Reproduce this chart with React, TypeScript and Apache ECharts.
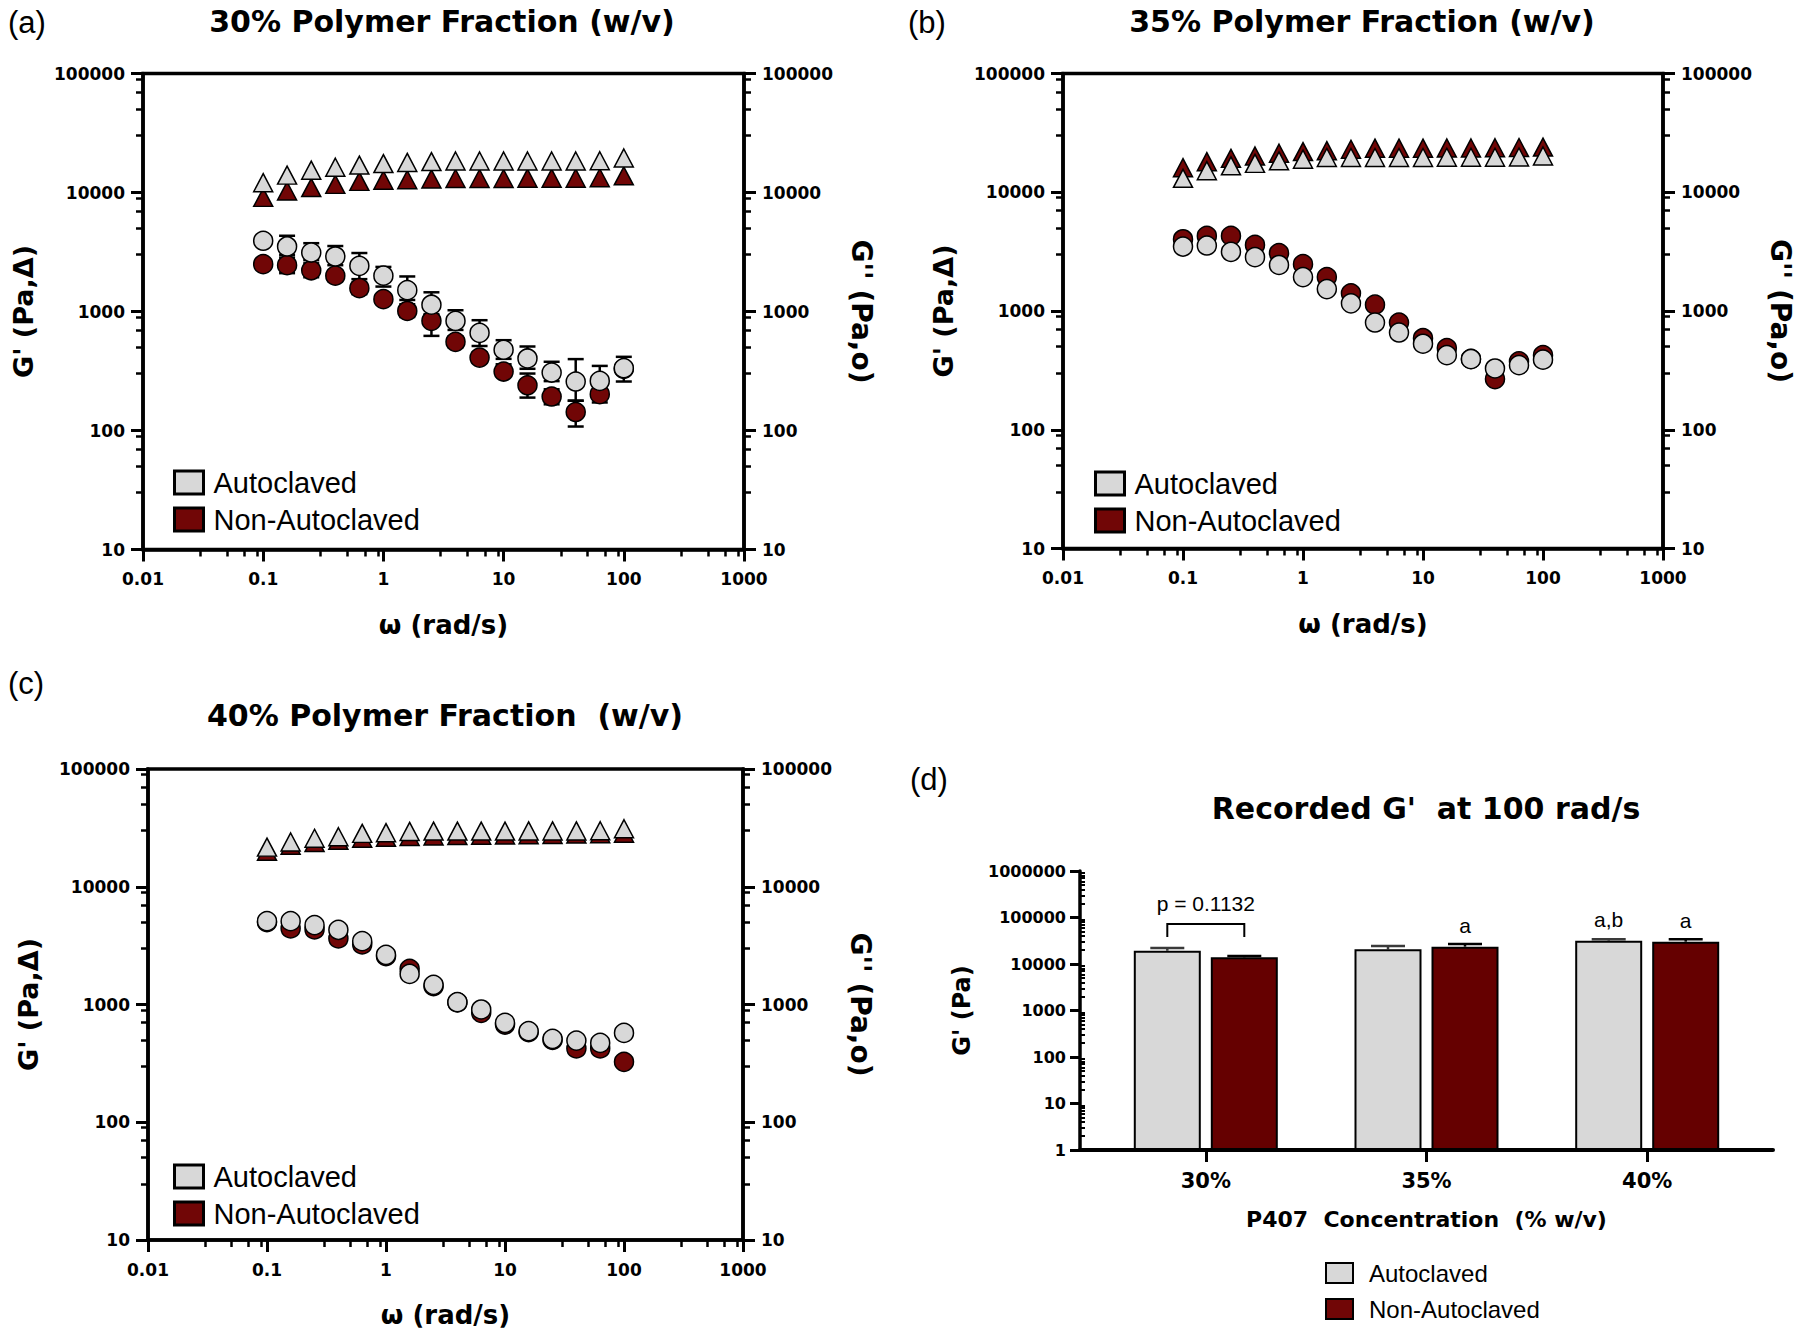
import React, { useEffect, useRef } from 'react';
import * as echarts from 'echarts';

// ---------- data ----------
const OMEGA = [0.1, 0.158, 0.251, 0.398, 0.631, 1, 1.58, 2.51, 3.98, 6.31, 10, 15.8, 25.1, 39.8, 63.1, 100];

// (a) 30 % polymer fraction
const P30_GP_AUTO = [12100, 14000, 15400, 16300, 17000, 17500, 17900, 18200, 18400, 18400, 18400, 18400, 18400, 18400, 18500, 19500];
const P30_GP_NON = [9100, 10300, 11000, 11700, 12400, 12700, 12800, 13000, 13100, 13100, 13100, 13200, 13200, 13200, 13300, 13800];
const P30_GPP_AUTO = [3930, 3520, 3130, 2900, 2420, 2000, 1510, 1140, 833, 662, 477, 403, 307, 258, 261, 334];
const P30_GPP_AUTO_LO = [3800, 3000, 2700, 2450, 1870, 1620, 1250, 930, 700, 513, 400, 330, 260, 178, 200, 258];
const P30_GPP_AUTO_HI = [4050, 4330, 3750, 3550, 3100, 2370, 1970, 1450, 1025, 845, 574, 508, 378, 398, 349, 416];
const P30_GPP_NON = [2500, 2450, 2220, 2000, 1570, 1270, 1010, 835, 556, 410, 313, 240, 193, 143, 202, 330];
const P30_GPP_NON_LO = [2400, 2100, 1940, 1800, 1400, 1200, 900, 624, 500, 370, 290, 189, 166, 108, 172, 300];
const P30_GPP_NON_HI = [2600, 2840, 2540, 2200, 1750, 1350, 1150, 950, 620, 452, 360, 301, 222, 178, 236, 360];

// (b) 35 %
const P35_GP_AUTO = [13100, 15200, 16700, 17500, 18400, 19000, 19600, 19600, 19600, 19600, 19600, 19700, 19700, 19700, 19800, 20200];
const P35_GP_NON = [16100, 18100, 19300, 20200, 21300, 22000, 22400, 23000, 23500, 23500, 23500, 23600, 23600, 23700, 23800, 24000];
const P35_GPP_AUTO = [3490, 3560, 3150, 2840, 2440, 1930, 1530, 1160, 800, 659, 530, 425, 393, 328, 350, 389];
const P35_GPP_NON = [4020, 4290, 4290, 3600, 3070, 2480, 1930, 1410, 1130, 800, 590, 487, 395, 267, 376, 425];

// (c) 40 %
const P40_GP_AUTO = [21700, 24000, 25800, 26600, 28400, 28800, 29500, 29700, 29700, 29700, 29700, 29800, 29800, 29800, 29900, 31100];
const P40_GP_NON = [20000, 22500, 23800, 24800, 25800, 26300, 26700, 27000, 27200, 27400, 27500, 27700, 27800, 28000, 28200, 28500];
const P40_GPP_AUTO = [5100, 5100, 4720, 4310, 3450, 2640, 1820, 1470, 1047, 907, 699, 594, 511, 494, 472, 574];
const P40_GPP_NON = [5000, 4430, 4340, 3640, 3240, 2570, 2010, 1430, 1040, 849, 676, 582, 500, 423, 423, 326];

// (d) recorded G' at 100 rad/s
const CONC = ['30%', '35%', '40%'];
const BAR_AUTO = [19300, 20700, 31800];
const BAR_AUTO_ERR = [22100, 24400, 34000];
const BAR_NON = [13900, 23600, 30200];
const BAR_NON_ERR = [14900, 26900, 34000];
const LETTERS_AUTO = ['', '', 'a,b'];
const LETTERS_NON = ['', 'a', 'a'];
const P_TEXT = 'p = 0.1132';
const BRACKET_TOP = 72500;
const BRACKET_LEG = 38000;
const P_TEXT_Y = 200000;

// tick labels / ticks
const X_RANGE = [0.01, 1000];
const Y_RANGE = [10, 100000];
const D_Y_RANGE = [1, 1000000];
const MINOR_MULT = [3, 5, 7, 9];
const D_MINOR_MULT = [2, 3, 4, 5, 6, 7, 8, 9];

const TITLES = ['30% Polymer Fraction (w/v)', '35% Polymer Fraction (w/v)', '40% Polymer Fraction  (w/v)', "Recorded G'  at 100 rad/s"];
const LETTERS = ['(a)', '(b)', '(c)', '(d)'];

// ---------- styles ----------
const BOLD = '"DejaVu Sans", Verdana, sans-serif';
const SANS = '"Liberation Sans", Arial, Helvetica, sans-serif';
const LIGHT = '#d8d8d8';
const DARK = '#710606';
const BAR_DARK = '#650000';
const BAR_W = 67;
const BAR_GAP = 10;

function minorTicks(lo: number, hi: number, mult: number[]) {
  const out: number[] = [];
  let d = lo;
  while (d < hi * 0.999) {
    for (const m of mult) out.push(Number((d * m).toPrecision(4)));
    d = Number((d * 10).toPrecision(4));
  }
  return out;
}
const fmtNum = (v: number) => String(Number(Number(v).toPrecision(6)));

const zip = (xs: number[], ys: number[]) => xs.map((x, i) => [x, ys[i]]);
const zip3 = (xs: number[], a: number[], b: number[]) => xs.map((x, i) => [x, a[i], b[i]]);

const errRender = (capHalf: number) => (params: any, api: any) => {
  const x = api.value(0);
  const lo = api.value(1);
  const hi = api.value(2);
  const a = api.coord([x, lo]);
  const b = api.coord([x, hi]);
  const st = { stroke: '#000', lineWidth: 2.5 };
  return {
    type: 'group',
    children: [
      { type: 'line', shape: { x1: a[0], y1: a[1], x2: b[0], y2: b[1] }, style: st },
      { type: 'line', shape: { x1: a[0] - capHalf, y1: a[1], x2: a[0] + capHalf, y2: a[1] }, style: st },
      { type: 'line', shape: { x1: b[0] - capHalf, y1: b[1], x2: b[0] + capHalf, y2: b[1] }, style: st },
    ],
  };
};

const barErrRender = (offset: number, color: string) => (params: any, api: any) => {
  const x = api.value(0);
  const v = api.value(1);
  const e = api.value(2);
  const base = api.coord([x, v]);
  const top = api.coord([x, e]);
  const cx = base[0] + offset;
  const st = { stroke: color, lineWidth: 2.5 };
  return {
    type: 'group',
    children: [
      { type: 'line', shape: { x1: cx, y1: base[1], x2: cx, y2: top[1] }, style: st },
      { type: 'line', shape: { x1: cx - 17, y1: top[1], x2: cx + 17, y2: top[1] }, style: st },
    ],
  };
};

const PANELS = [
  {
    grid: { left: 143, top: 73.5, width: 601, height: 476 },
    gpAuto: P30_GP_AUTO, gpNon: P30_GP_NON, gppAuto: P30_GPP_AUTO, gppNon: P30_GPP_NON,
    errAuto: zip3(OMEGA, P30_GPP_AUTO_LO, P30_GPP_AUTO_HI), errNon: zip3(OMEGA, P30_GPP_NON_LO, P30_GPP_NON_HI),
    legend: { left: 168, top: 463 },
  },
  {
    grid: { left: 1063, top: 73.5, width: 600, height: 475 },
    gpAuto: P35_GP_AUTO, gpNon: P35_GP_NON, gppAuto: P35_GPP_AUTO, gppNon: P35_GPP_NON,
    errAuto: null, errNon: null,
    legend: { left: 1089, top: 464 },
  },
  {
    grid: { left: 148, top: 769, width: 595, height: 471 },
    gpAuto: P40_GP_AUTO, gpNon: P40_GP_NON, gppAuto: P40_GPP_AUTO, gppNon: P40_GPP_NON,
    errAuto: null, errNon: null,
    legend: { left: 168, top: 1157 },
  },
];

function buildOption() {
  const grid: any[] = [];
  const xAxis: any[] = [];
  const yAxis: any[] = [];
  const series: any[] = [];
  const legend: any[] = [];

  const axisLine = { show: true, onZero: false, lineStyle: { color: '#000', width: 3.5 } };
  const majorTick = { show: true, length: 12, lineStyle: { color: '#000', width: 3 } };
  const lblStyle = { fontFamily: BOLD, fontWeight: 'bold', fontSize: 17, color: '#000' };
  const nameStyle = (size: number) => ({ fontFamily: BOLD, fontWeight: 'bold', fontSize: size, color: '#000' });
  const minorX = minorTicks(X_RANGE[0], X_RANGE[1], MINOR_MULT);
  const minorY = minorTicks(Y_RANGE[0], Y_RANGE[1], MINOR_MULT);

  const legendItems = (bw: number) => [
    { name: 'Autoclaved', icon: 'rect', itemStyle: { color: LIGHT, borderColor: '#000', borderWidth: bw } },
    { name: 'Non-Autoclaved', icon: 'rect', itemStyle: { color: DARK, borderColor: '#000', borderWidth: bw } },
  ];

  PANELS.forEach((p, g) => {
    grid.push({ ...p.grid, show: true, borderColor: '#000', borderWidth: 3.5, backgroundColor: 'transparent', outerBoundsMode: 'none', containLabel: false });
    xAxis.push({
      type: 'log', logBase: 10, gridIndex: g, min: X_RANGE[0], max: X_RANGE[1], position: 'bottom',
      name: 'ω (rad/s)', nameLocation: 'middle', nameGap: 62, nameTextStyle: nameStyle(26),
      axisLine, axisTick: majorTick,
      axisLabel: { ...lblStyle, margin: 21, formatter: fmtNum },
      splitLine: { show: false },
    });
    xAxis.push({
      type: 'log', logBase: 10, gridIndex: g, min: X_RANGE[0], max: X_RANGE[1], position: 'bottom',
      axisLine: { show: false, onZero: false }, axisLabel: { show: false }, splitLine: { show: false },
      axisTick: { show: true, length: 7, lineStyle: { color: '#000', width: 2.5 }, customValues: minorX },
    });
    yAxis.push({
      type: 'log', logBase: 10, gridIndex: g, min: Y_RANGE[0], max: Y_RANGE[1], position: 'left',
      name: "G' (Pa,Δ)", nameLocation: 'middle', nameGap: 106, nameTextStyle: nameStyle(27),
      axisLine, axisTick: majorTick,
      axisLabel: { ...lblStyle, margin: 18, formatter: fmtNum },
      splitLine: { show: false },
    });
    yAxis.push({
      type: 'log', logBase: 10, gridIndex: g, min: Y_RANGE[0], max: Y_RANGE[1], position: 'left',
      axisLine: { show: false, onZero: false }, axisLabel: { show: false }, splitLine: { show: false },
      axisTick: { show: true, length: 7, lineStyle: { color: '#000', width: 2.5 }, customValues: minorY },
    });
    yAxis.push({
      type: 'log', logBase: 10, gridIndex: g, min: Y_RANGE[0], max: Y_RANGE[1], position: 'right',
      name: "G'' (Pa,o)", nameLocation: 'middle', nameGap: 103, nameRotate: -90, nameTextStyle: nameStyle(28),
      axisLine, axisTick: majorTick,
      axisLabel: { ...lblStyle, margin: 18, formatter: fmtNum },
      splitLine: { show: false },
    });
    yAxis.push({
      type: 'log', logBase: 10, gridIndex: g, min: Y_RANGE[0], max: Y_RANGE[1], position: 'right',
      axisLine: { show: false, onZero: false }, axisLabel: { show: false }, splitLine: { show: false },
      axisTick: { show: true, length: 7, lineStyle: { color: '#000', width: 2.5 }, customValues: minorY },
    });

    const xi = g * 2;
    const yi = g * 4;
    const common = { xAxisIndex: xi, yAxisIndex: yi, silent: true, animation: false };
    const mk = (name: string, symbol: string, color: string, data: number[]) => ({
      ...common, type: 'scatter', name, symbol, symbolSize: symbol === 'triangle' ? [19, 18] : 19,
      itemStyle: { color, borderColor: '#000', borderWidth: 1.5, opacity: 1 },
      data: zip(OMEGA, data),
    });
    series.push(mk('Non-Autoclaved', 'triangle', DARK, p.gpNon));
    if (p.errNon) series.push({ ...common, type: 'custom', name: 'errNon' + g, renderItem: errRender(8), encode: { x: 0, y: [1, 2] }, data: p.errNon });
    series.push(mk('Non-Autoclaved', 'circle', DARK, p.gppNon));
    series.push(mk('Autoclaved', 'triangle', LIGHT, p.gpAuto));
    if (p.errAuto) series.push({ ...common, type: 'custom', name: 'errAuto' + g, renderItem: errRender(8), encode: { x: 0, y: [1, 2] }, data: p.errAuto });
    series.push(mk('Autoclaved', 'circle', LIGHT, p.gppAuto));

    legend.push({
      left: p.legend.left, top: p.legend.top, orient: 'vertical', itemWidth: 29, itemHeight: 23, itemGap: 8,
      selectedMode: false, textStyle: { fontFamily: SANS, fontSize: 29, color: '#000', padding: [0, 0, 0, 5] },
      data: legendItems(3),
    });
  });

  // (d) bar panel
  grid.push({ left: 1080, top: 871, width: 693, height: 279, show: false, outerBoundsMode: 'none', containLabel: false });
  xAxis.push({
    type: 'value', gridIndex: 3, min: -0.57, max: 2.57, position: 'bottom',
    name: 'P407  Concentration  (% w/v)', nameLocation: 'middle', nameGap: 58, nameTextStyle: nameStyle(22),
    axisLine: { show: true, onZero: false, lineStyle: { color: '#000', width: 4 } },
    axisTick: { show: true, length: 12, lineStyle: { color: '#000', width: 3 }, customValues: [0, 1, 2] },
    axisLabel: { fontFamily: BOLD, fontWeight: 'bold', fontSize: 21, color: '#000', margin: 20, customValues: [0, 1, 2], formatter: (v: number) => CONC[Math.round(v)] ?? '' },
    splitLine: { show: false },
  });
  yAxis.push({
    type: 'log', logBase: 10, gridIndex: 3, min: D_Y_RANGE[0], max: D_Y_RANGE[1], position: 'left',
    name: "G' (Pa)", nameLocation: 'middle', nameGap: 106, nameTextStyle: nameStyle(24),
    axisLine: { show: true, onZero: false, lineStyle: { color: '#000', width: 3.5 } },
    axisTick: { show: true, length: 10, lineStyle: { color: '#000', width: 3 } },
    axisLabel: { fontFamily: BOLD, fontWeight: 'bold', fontSize: 16, color: '#000', margin: 14, formatter: fmtNum },
    splitLine: { show: false },
  });
  yAxis.push({
    type: 'log', logBase: 10, gridIndex: 3, min: D_Y_RANGE[0], max: D_Y_RANGE[1], position: 'left',
    axisLine: { show: false, onZero: false }, axisLabel: { show: false }, splitLine: { show: false },
    axisTick: { show: true, inside: true, length: 5, lineStyle: { color: '#000', width: 2 }, customValues: minorTicks(D_Y_RANGE[0], D_Y_RANGE[1], D_MINOR_MULT) },
  });
  const barIdx = CONC.map((_, i) => i);
  const barLabel = (letters: string[]) => ({
    show: true, position: 'top', distance: 11, fontFamily: SANS, fontSize: 21, color: '#000',
    formatter: (p: any) => letters[p.dataIndex] || '',
  });
  series.push({
    type: 'bar', name: 'Autoclaved', xAxisIndex: 6, yAxisIndex: 12, silent: true,
    barWidth: BAR_W, barGap: `${(BAR_GAP / BAR_W) * 100}%`,
    itemStyle: { color: LIGHT, borderColor: '#000', borderWidth: 2 },
    label: barLabel(LETTERS_AUTO),
    data: barIdx.map((i) => [i, BAR_AUTO[i]]),
  });
  series.push({
    type: 'bar', name: 'Non-Autoclaved', xAxisIndex: 6, yAxisIndex: 12, silent: true,
    barWidth: BAR_W, barGap: `${(BAR_GAP / BAR_W) * 100}%`,
    itemStyle: { color: BAR_DARK, borderColor: '#000', borderWidth: 2 },
    label: barLabel(LETTERS_NON),
    data: barIdx.map((i) => [i, BAR_NON[i]]),
  });
  const off = (BAR_W + BAR_GAP) / 2;
  series.push({
    type: 'custom', name: 'barErrAuto', xAxisIndex: 6, yAxisIndex: 12, silent: true,
    renderItem: barErrRender(-off, '#3a3a3a'), encode: { x: 0, y: [1, 2] },
    data: barIdx.map((i) => [i, BAR_AUTO[i], BAR_AUTO_ERR[i]]),
  });
  series.push({
    type: 'custom', name: 'barErrNon', xAxisIndex: 6, yAxisIndex: 12, silent: true,
    renderItem: barErrRender(off, '#000'), encode: { x: 0, y: [1, 2] },
    data: barIdx.map((i) => [i, BAR_NON[i], BAR_NON_ERR[i]]),
  });
  legend.push({
    left: 1320, top: 1256, orient: 'vertical', itemWidth: 27, itemHeight: 20, itemGap: 12,
    selectedMode: false, textStyle: { fontFamily: SANS, fontSize: 24, color: '#000', padding: [0, 0, 0, 11] },
    data: legendItems(2),
  });

  return { animation: false, backgroundColor: '#fff', grid, xAxis, yAxis, series, legend };
}

export default function App() {
  const ref = useRef<HTMLDivElement>(null);
  useEffect(() => {
    if (!ref.current) return;
    const chart = echarts.init(ref.current, undefined, { renderer: 'svg' });
    chart.setOption(buildOption() as any);

    // annotations derived from the data through the chart's own scales
    const c0 = chart.convertToPixel({ gridIndex: 3 } as any, [0, BRACKET_TOP]) as number[];
    const cLeg = chart.convertToPixel({ gridIndex: 3 } as any, [0, BRACKET_LEG]) as number[];
    const cTxt = chart.convertToPixel({ gridIndex: 3 } as any, [0, P_TEXT_Y]) as number[];
    const off = (BAR_W + BAR_GAP) / 2;
    const l = c0[0] - off;
    const r = c0[0] + off;

    const titlePos = [
      { x: 442, y: 21 },
      { x: 1362, y: 21 },
      { x: 445, y: 715 },
      { x: 1426, y: 808 },
    ];
    const letterPos = [
      { x: 8, y: 22 },
      { x: 908, y: 22 },
      { x: 8, y: 683 },
      { x: 910, y: 779 },
    ];
    const elements: any[] = [];
    TITLES.forEach((t, i) => {
      elements.push({
        type: 'text', x: titlePos[i].x, y: titlePos[i].y, silent: true,
        style: { text: t, fontFamily: BOLD, fontWeight: 'bold', fontSize: 30, fill: '#000', align: 'center', verticalAlign: 'middle' },
      });
    });
    LETTERS.forEach((t, i) => {
      elements.push({
        type: 'text', x: letterPos[i].x, y: letterPos[i].y, silent: true,
        style: { text: t, fontFamily: SANS, fontSize: 31, fill: '#000', align: 'left', verticalAlign: 'middle' },
      });
    });
    elements.push({
      type: 'polyline', silent: true,
      shape: { points: [[l, cLeg[1]], [l, c0[1]], [r, c0[1]], [r, cLeg[1]]] },
      style: { stroke: '#000', lineWidth: 2, fill: 'none' },
    });
    elements.push({
      type: 'text', x: (l + r) / 2, y: cTxt[1], silent: true,
      style: { text: P_TEXT, fontFamily: SANS, fontSize: 21, fill: '#000', align: 'center', verticalAlign: 'middle' },
    });
    chart.setOption({ graphic: elements } as any);

    return () => chart.dispose();
  }, []);
  return (
    <div
      ref={ref}
      style={{ position: 'fixed', left: 0, top: 0, width: 1800, height: 1338, background: '#fff' }}
    />
  );
}
